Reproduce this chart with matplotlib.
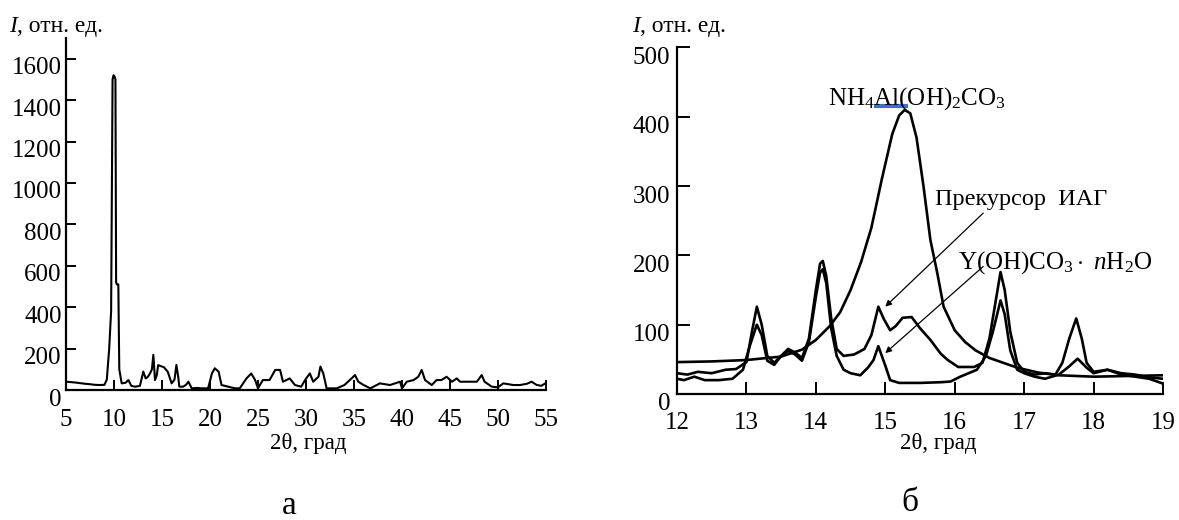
import matplotlib
matplotlib.use("Agg")
import matplotlib.pyplot as plt
from matplotlib.transforms import ScaledTranslation

plt.rcParams['font.family'] = ['Liberation Serif', 'DejaVu Serif']
plt.rcParams['mathtext.fontset'] = 'custom'
plt.rcParams['mathtext.rm'] = 'Liberation Serif'
plt.rcParams['mathtext.it'] = 'Liberation Serif:italic'
plt.rcParams['mathtext.bf'] = 'Liberation Serif:bold'

# ---------------- data: panel a ----------------
two_theta_a = [5.0, 5.5, 6.0, 6.5, 7.0, 7.5, 8.0, 8.5, 9.0, 9.25, 9.5, 9.7, 9.85, 9.95, 10.05,
               10.15, 10.22, 10.3, 10.45, 10.55, 10.8, 11.2, 11.5, 11.8, 12.2, 12.7, 13.05, 13.3, 13.5,
               13.75, 13.95, 14.1, 14.27, 14.45, 14.6, 14.9, 15.2, 15.6, 16.0, 16.3, 16.5, 16.7,
               16.8, 17.2, 17.5, 17.75, 18.1, 18.6, 19.2, 19.8, 20.2, 20.5, 20.9, 21.2, 21.9,
               22.6, 23.1, 23.8, 24.3, 24.7, 25.0, 25.5, 26.2, 26.8, 27.3, 27.6, 28.3, 28.85,
               29.5, 29.9, 30.4, 30.75, 31.3, 31.5, 31.8, 32.15, 33.2, 34.0, 34.75, 35.1, 35.45,
               36.0, 36.7, 37.7, 38.75, 39.8, 40.0, 40.5, 41.2, 41.7, 42.05, 42.4, 43.1, 43.6,
               44.1, 44.65, 45.2, 45.7, 46.05, 47.1, 47.8, 48.3, 48.6, 49.35, 50.0, 50.55, 51.6,
               52.3, 53.0, 53.5, 54.0, 54.5, 55.0]
intensity_a = [40, 38, 36, 33, 30, 28, 25, 24, 25, 50, 200, 380, 1500, 1520, 1515,
               1500, 520, 510, 510, 100, 32, 35, 48, 20, 16, 20, 89, 56, 62,
               80, 100, 170, 48, 70, 120, 115, 110, 88, 32, 50, 121, 60,
               16, 16, 25, 40, 8, 10, 8, 8, 80, 105, 88, 24, 16,
               8, 8, 56, 80, 48, 8, 48, 48, 97, 97, 40, 56, 24,
               16, 48, 80, 40, 64, 113, 80, 8, 8, 24, 56, 72, 40,
               24, 8, 32, 24, 40, 8, 40, 48, 64, 97, 48, 24, 48,
               48, 64, 40, 56, 40, 40, 40, 72, 40, 16, 13, 32, 24,
               24, 30, 40, 25, 20, 34]

# ---------------- data: panel б ----------------
two_theta_nh4 = [12.0, 12.5, 13.0, 13.5, 13.8, 14.0, 14.2, 14.35, 14.5, 14.65, 14.8, 14.95,
                 15.1, 15.2, 15.28, 15.36, 15.45, 15.55, 15.65, 15.75, 15.84, 16.0, 16.15,
                 16.3, 16.5, 16.7, 16.9, 17.2, 17.5, 18.0, 18.5, 19.0]
intensity_nh4 = [46, 47, 49, 54, 64, 78, 98, 118, 150, 190, 240, 310,
                 375, 402, 410, 405, 370, 300, 222, 174, 126, 92, 75,
                 63, 52, 45, 38, 31, 27, 25, 26, 27]

two_theta_prec = [12.0, 12.15, 12.3, 12.5, 12.7, 12.85, 13.0, 13.08, 13.15, 13.22, 13.3, 13.4,
                  13.5, 13.6, 13.7, 13.8, 13.9, 14.0, 14.06, 14.1, 14.15, 14.22, 14.3, 14.4,
                  14.55, 14.7, 14.8, 14.9, 14.98, 15.07, 15.15, 15.25, 15.38, 15.5, 15.65,
                  15.8, 15.9, 16.05, 16.28, 16.4, 16.5, 16.6, 16.66, 16.72, 16.8, 16.9, 17.0,
                  17.15, 17.3, 17.45, 17.55, 17.65, 17.75, 17.83, 17.9, 18.0, 18.2, 18.4,
                  18.6, 18.8, 19.0]
intensity_prec = [30, 28, 32, 30, 35, 36, 46, 90, 126, 100, 55, 45,
                  55, 65, 60, 52, 80, 150, 188, 192, 170, 110, 65, 55,
                  57, 65, 85, 126, 108, 92, 98, 110, 111, 95, 78,
                  58, 49, 39, 39, 45, 80, 140, 176, 150, 90, 45, 32,
                  28, 30, 28, 45, 80, 109, 80, 45, 32, 35, 30,
                  28, 24, 22]

two_theta_y = [12.0, 12.1, 12.25, 12.4, 12.6, 12.8, 12.95, 13.05, 13.15, 13.22, 13.3, 13.4,
               13.5, 13.6, 13.7, 13.8, 13.9, 14.0, 14.06, 14.1, 14.15, 14.22, 14.3, 14.4,
               14.5, 14.64, 14.75, 14.83, 14.9, 15.0, 15.07, 15.2, 15.5, 15.8, 15.94, 16.08,
               16.2, 16.32, 16.45, 16.55, 16.66, 16.72, 16.8, 16.9, 17.0, 17.15, 17.3, 17.5,
               17.65, 17.77, 17.9, 18.0, 18.2, 18.4, 18.6, 18.8, 19.0]
intensity_y = [22, 20, 25, 20, 20, 22, 35, 70, 100, 85, 48, 42,
               55, 62, 57, 48, 75, 140, 175, 180, 160, 95, 55, 35,
               30, 27, 38, 49, 69, 41, 20, 16, 16, 17, 18, 25,
               30, 35, 55, 90, 135, 115, 63, 35, 30, 25, 22, 28,
               40, 51, 38, 30, 35, 28, 25, 22, 15]

xticks_a = [5, 10, 15, 20, 25, 30, 35, 40, 45, 50, 55]
yticks_a = [0, 200, 400, 600, 800, 1000, 1200, 1400, 1600]
xticks_b = [12, 13, 14, 15, 16, 17, 18, 19]
yticks_b = [0, 100, 200, 300, 400, 500]

W, H = 1179, 520
fig = plt.figure(figsize=(W / 100, H / 100), dpi=100)


def px_axes(l, r, b, t):
    return [l / W, 1 - b / H, (r - l) / W, (b - t) / H]


def style(ax, xt, yt, tlen, fs, xpad, ypad, ydrop):
    for s in ['top', 'right']:
        ax.spines[s].set_visible(False)
    for s in ['left', 'bottom']:
        ax.spines[s].set_linewidth(1.6)
    ax.set_xticks(xt)
    ax.set_yticks(yt)
    ax.tick_params(direction='in', length=tlen, width=1.4, labelsize=fs)
    ax.tick_params(axis='x', pad=xpad)
    ax.tick_params(axis='y', pad=ypad)
    off = ScaledTranslation(0, -ydrop / 100, fig.dpi_scale_trans)
    for tick in ax.yaxis.get_major_ticks():
        tick.label1.set_transform(tick.label1.get_transform() + off)


# ---- panel a ----
ax1 = fig.add_axes(px_axes(66, 546, 390, 38))
ax1.plot(two_theta_a, intensity_a, color='black', lw=1.5)
ax1.set_xlim(5, 55)
ax1.set_ylim(0, 1700)
style(ax1, xticks_a, yticks_a, 7, 18, 14, 3, 7)

# ---- panel б ----
ax2 = fig.add_axes(px_axes(677, 1163, 394, 47.5))
for xs, ys in [(two_theta_nh4, intensity_nh4), (two_theta_prec, intensity_prec),
               (two_theta_y, intensity_y)]:
    ax2.plot(xs, ys, color='black', lw=1.9)
ax2.set_xlim(12, 19)
ax2.set_ylim(0, 500)
style(ax2, xticks_b, yticks_b, 9, 18, 13, 5, 8)

ax2.text(14.18, 427, r'$\mathrm{NH_4Al(OH)_2CO_3}$', fontsize=18, va='center', ha='left')
ax2.plot([14.84, 15.33], [415, 415], color='#3b6fd6', lw=3, solid_capstyle='butt')
ax2.text(15.72, 280, 'Прекурсор  ИАГ', fontsize=17.5, va='center', ha='left')
ax2.text(16.05, 189, r'$\mathrm{Y(OH)CO_3}\cdot\ \mathit{n}\mathrm{H_2O}$', fontsize=18,
         va='center', ha='left')
arrow = dict(arrowstyle='-|>', lw=0.9, color='black', mutation_scale=9, shrinkA=0, shrinkB=0)
ax2.annotate('', xy=(15.0, 126), xytext=(16.41, 261), arrowprops=arrow)
ax2.annotate('', xy=(15.0, 59), xytext=(16.41, 184), arrowprops=arrow)

# ---- axis titles ----
for x0, xc in [(9, 308), (632, 938)]:
    t1 = fig.text(x0 / W, 1 - 37 / H, 'I', fontsize=17, style='italic', ha='left', va='bottom')
    ax1.annotate(', отн. ед.', xy=(1, 0), xycoords=t1, ha='left', va='bottom', fontsize=17,
                 annotation_clip=False)
    fig.text(xc / W, 1 - 444 / H, '2θ, град', fontsize=16.5, ha='center', va='center')

fig.text(289 / W, 1 - 506 / H, 'а', fontsize=24, ha='center', va='center')
fig.text(910 / W, 1 - 503 / H, 'б', fontsize=24, ha='center', va='center')

fig.savefig('out.png', dpi=100)
